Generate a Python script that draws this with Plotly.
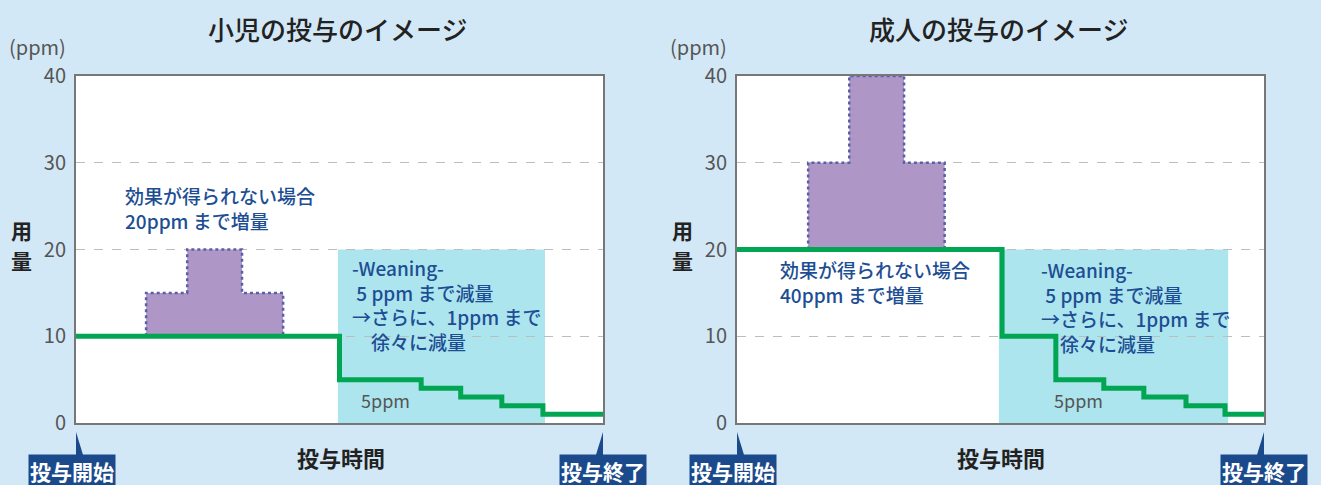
import plotly.graph_objects as go

# ---------------- data ----------------
y_ticks = [0, 10, 20, 30, 40]

# child chart (小児)
child_step_x = [0, 50, 65.5, 73, 80.8, 88.6, 100]
child_step_y = [10, 5, 4, 3, 2, 1, 1]
child_boost_edges = [13.3, 21.1, 31.5, 39.3]
child_boost_levels = [15, 20, 15]
child_boost_base = 10
child_wean_x = [49.7, 89.0]
child_wean_top = 20

# adult chart (成人)
adult_step_x = [0, 50.3, 60.5, 69.6, 77.2, 85.2, 92.6, 100]
adult_step_y = [20, 10, 5, 4, 3, 2, 1, 1]
adult_boost_edges = [13.5, 21.3, 31.7, 39.4]
adult_boost_levels = [30, 40, 30]
adult_boost_base = 20
adult_wean_x = [49.7, 93.2]
adult_wean_top = 20

titles = ["小児の投与のイメージ", "成人の投与のイメージ"]
boost_texts = ["効果が得られない場合<br>20ppm まで増量", "効果が得られない場合<br>40ppm まで増量"]
wean_text = "-Weaning-<br> 5 ppm まで減量<br>→さらに、1ppm まで<br>　徐々に減量"
small_label = "5ppm"

# ---------------- style ----------------
W, H = 1321, 485
BG = "#d3e8f6"
GREEN = "#00a651"
PURPLE = "#ae96c6"
PURPLE_LINE = "#5b5fa8"
CYAN = "#ade5ee"
TXT_BLUE = "#1d4e94"
BADGE = "#1b4a8c"
GRAY = "#555555"
FONT = "Noto Sans CJK JP"

plot_left = [76, 737]
plot_right = [603, 1264]
plot_top, plot_bottom = 76, 423


def px_x(p):
    return p / W


def px_y(p):
    return (H - p) / H


fig = go.Figure()


def boost_polygon(edges, levels, base):
    xs = [edges[0]]
    ys = [base]
    for i, lv in enumerate(levels):
        xs += [edges[i], edges[i + 1]]
        ys += [lv, lv]
    xs += [edges[-1], edges[0]]
    ys += [base, base]
    return xs, ys


charts = [
    (child_step_x, child_step_y, child_boost_edges, child_boost_levels, child_boost_base, child_wean_x, child_wean_top),
    (adult_step_x, adult_step_y, adult_boost_edges, adult_boost_levels, adult_boost_base, adult_wean_x, adult_wean_top),
]
small_label_x = [53.7, 59.8]

shapes = []
annotations = []

for i, (sx, sy, be, bl, bb, wx, wt) in enumerate(charts):
    xa = "x" if i == 0 else "x2"
    ya = "y" if i == 0 else "y2"
    shapes.append(dict(type="rect", xref=xa, yref=ya, x0=wx[0], x1=wx[1], y0=0, y1=wt,
                       fillcolor=CYAN, line=dict(width=0), layer="below"))
    px_, py_ = boost_polygon(be, bl, bb)
    fig.add_trace(go.Scatter(x=px_, y=py_, mode="lines", fill="toself", fillcolor=PURPLE,
                             line=dict(color=PURPLE_LINE, width=2.5, dash="dot"),
                             xaxis=xa, yaxis=ya, showlegend=False, hoverinfo="skip"))
    fig.add_trace(go.Scatter(x=sx, y=sy, mode="lines", line=dict(color=GREEN, width=5, shape="hv"),
                             xaxis=xa, yaxis=ya, showlegend=False, hoverinfo="skip"))

    L, R = plot_left[i], plot_right[i]
    cx = (L + R) / 2
    annotations.append(dict(text=titles[i], xref="paper", yref="paper", x=px_x(cx - 2), y=px_y(28),
                            showarrow=False, font=dict(family=FONT, size=26, color="#222222", weight=500),
                            xanchor="center", yanchor="middle"))
    annotations.append(dict(text="(ppm)", xref="paper", yref="paper", x=px_x(L - 69), y=px_y(46),
                            showarrow=False, font=dict(family=FONT, size=20, color=GRAY),
                            xanchor="left", yanchor="middle"))
    for ch, yy in [("用", 230), ("量", 260)]:
        annotations.append(dict(text="<b>" + ch + "</b>", xref="paper", yref="paper", x=px_x(L - 55), y=px_y(yy),
                                showarrow=False, font=dict(family=FONT, size=21, color="#222222"),
                                xanchor="center", yanchor="middle", borderpad=0))
    annotations.append(dict(text="<b>投与時間</b>", xref="paper", yref="paper", x=px_x(cx + 1), y=px_y(457),
                            showarrow=False, font=dict(family=FONT, size=22, color="#222222"),
                            xanchor="center", yanchor="middle"))
    for xv, label, shift in [(0, "投与開始", -4), (100, "投与終了", 0)]:
        annotations.append(dict(text="<b>" + label + "</b>", xref=xa, yref="paper", x=xv, y=px_y(488),
                                xshift=shift, showarrow=False,
                                font=dict(family=FONT, size=21, color="white"),
                                bgcolor=BADGE, borderpad=1, xanchor="center", yanchor="bottom"))
        shapes.append(dict(type="path", xref=xa, yref="paper",
                           path=f"M {xv},{px_y(432)} L {xv - 1.75},{px_y(462)} L {xv + 1.75},{px_y(462)} Z",
                           fillcolor=BADGE, line=dict(width=0)))
    annotations.append(dict(text=small_label, xref=xa, yref=ya, x=small_label_x[i], y=2.65,
                            showarrow=False, font=dict(family=FONT, size=18, color=GRAY),
                            xanchor="left", yanchor="middle"))

annotations.append(dict(text=boost_texts[0], xref="x", yref="y", x=9.0, y=child_boost_levels[1],
                        yshift=42, showarrow=False, align="left",
                        font=dict(family=FONT, size=19, color=TXT_BLUE, weight=500),
                        xanchor="left", yanchor="middle"))
annotations.append(dict(text=boost_texts[1], xref="x2", yref="y2", x=7.8, y=adult_boost_base,
                        yshift=-32, showarrow=False, align="left",
                        font=dict(family=FONT, size=19, color=TXT_BLUE, weight=500),
                        xanchor="left", yanchor="middle"))
annotations.append(dict(text=wean_text, xref="x", yref="y", x=52.0, y=child_wean_top,
                        yshift=-55, showarrow=False, align="left",
                        font=dict(family=FONT, size=19, color=TXT_BLUE, weight=500),
                        xanchor="left", yanchor="middle"))
annotations.append(dict(text=wean_text, xref="x2", yref="y2", x=57.3, y=adult_wean_top,
                        yshift=-57, showarrow=False, align="left",
                        font=dict(family=FONT, size=19, color=TXT_BLUE, weight=500),
                        xanchor="left", yanchor="middle"))

axis_common_x = dict(range=[0, 100], showgrid=False, zeroline=False, showticklabels=False, automargin=False,
                     showline=True, linecolor="#777777", linewidth=2, mirror=True, fixedrange=True)
axis_common_y = dict(range=[0, 40], tickvals=y_ticks, showgrid=True, gridcolor="#bdbdbd", griddash="dash",
                     gridwidth=1, zeroline=False, showline=True, linecolor="#777777", linewidth=2, mirror=True,
                     tickfont=dict(family=FONT, size=20, color=GRAY), ticks="", ticklabelstandoff=4,
                     automargin=False, fixedrange=True)

fig.update_layout(
    width=W, height=H, autosize=False,
    margin=dict(l=0, r=0, t=0, b=0, pad=0, autoexpand=False),
    paper_bgcolor=BG, plot_bgcolor="white",
    xaxis=dict(domain=[px_x(plot_left[0]), px_x(plot_right[0])], anchor="y", **axis_common_x),
    yaxis=dict(domain=[px_y(plot_bottom), px_y(plot_top)], anchor="x", **axis_common_y),
    xaxis2=dict(domain=[px_x(plot_left[1]), px_x(plot_right[1])], anchor="y2", **axis_common_x),
    yaxis2=dict(domain=[px_y(plot_bottom), px_y(plot_top)], anchor="x2", **axis_common_y),
    shapes=shapes, annotations=annotations,
)

fig.write_html("out.html", config={"displayModeBar": False},
               post_script="document.body.style.margin='0';document.body.style.padding='0';document.body.style.overflow='hidden';")
